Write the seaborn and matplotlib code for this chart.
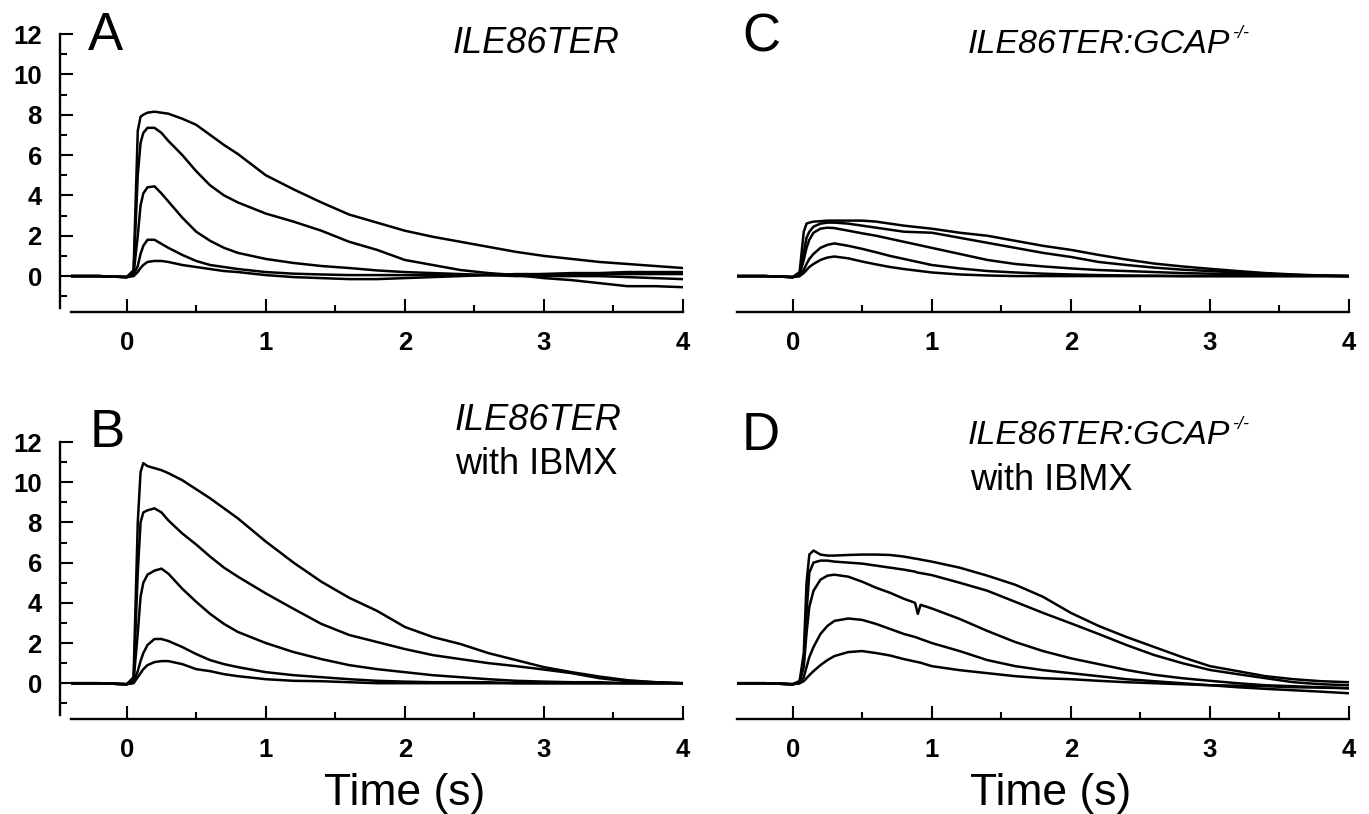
import numpy as np
import pandas as pd
import seaborn as sns
import matplotlib.pyplot as plt
from matplotlib.ticker import MultipleLocator

# === time grids (s) ===
t_grid = [-0.4, -0.2, 0.0, 0.05, 0.08, 0.1, 0.12, 0.15, 0.2, 0.25, 0.3, 0.4, 0.5, 0.6, 0.7, 0.8,
          1.0, 1.2, 1.4, 1.6, 1.8, 2.0, 2.2, 2.4, 2.6, 2.8, 3.0, 3.2, 3.4, 3.6, 3.8, 4.0]
t_grid_d = [-0.4, -0.2, 0.0, 0.05, 0.08, 0.1, 0.12, 0.15, 0.2, 0.25, 0.3, 0.4, 0.5, 0.6, 0.7, 0.8,
            0.88, 0.9, 0.92, 1.0, 1.2, 1.4, 1.6, 1.8, 2.0, 2.2, 2.4, 2.6, 2.8, 3.0, 3.2, 3.4, 3.6, 3.8, 4.0]

# === A: ILE86TER ===
a1 = [0, 0, -0.05, 0.3, 7.2, 7.9, 8.0, 8.1, 8.15, 8.1, 8.05, 7.8, 7.5, 7.0, 6.5, 6.05,
      5.0, 4.3, 3.65, 3.05, 2.65, 2.25, 1.95, 1.7, 1.45, 1.2, 1.0, 0.85, 0.7, 0.6, 0.5, 0.4]
a2 = [0, 0, -0.05, 0.2, 5.0, 6.6, 7.1, 7.35, 7.35, 7.1, 6.7, 6.0, 5.2, 4.5, 4.0, 3.65,
      3.1, 2.7, 2.25, 1.7, 1.3, 0.8, 0.55, 0.3, 0.15, 0.05, -0.1, -0.2, -0.35, -0.5, -0.5, -0.55]
a3 = [0, 0, -0.05, 0.1, 2.0, 3.5, 4.1, 4.4, 4.45, 4.1, 3.7, 2.9, 2.2, 1.75, 1.4, 1.15,
      0.85, 0.65, 0.5, 0.4, 0.28, 0.2, 0.15, 0.1, 0.05, 0.0, 0.0, 0.0, 0.0, -0.05, -0.1, -0.15]
a4 = [0, 0, -0.05, 0.05, 0.5, 1.1, 1.5, 1.8, 1.8, 1.6, 1.4, 1.05, 0.75, 0.55, 0.45, 0.35,
      0.2, 0.12, 0.08, 0.05, 0.05, 0.05, 0.05, 0.05, 0.05, 0.05, 0.1, 0.1, 0.1, 0.1, 0.1, 0.1]
a5 = [0, 0, -0.05, 0.0, 0.2, 0.4, 0.55, 0.7, 0.75, 0.75, 0.7, 0.55, 0.45, 0.35, 0.25, 0.2,
      0.05, -0.05, -0.1, -0.15, -0.15, -0.1, -0.05, 0.0, 0.05, 0.1, 0.1, 0.15, 0.15, 0.2, 0.2, 0.2]

# === B: ILE86TER with IBMX ===
b1 = [0, 0, -0.05, 0.3, 8.0, 10.5, 10.95, 10.8, 10.7, 10.6, 10.45, 10.1, 9.65, 9.2, 8.7, 8.2,
      7.05, 6.0, 5.05, 4.25, 3.6, 2.8, 2.3, 1.95, 1.5, 1.15, 0.8, 0.55, 0.33, 0.15, 0.05, 0.0]
b2 = [0, 0, -0.05, 0.2, 5.5, 8.0, 8.5, 8.6, 8.7, 8.5, 8.1, 7.45, 6.9, 6.3, 5.75, 5.3,
      4.47, 3.7, 2.95, 2.4, 2.05, 1.7, 1.4, 1.2, 1.0, 0.85, 0.68, 0.5, 0.25, 0.1, 0.05, 0.0]
b3 = [0, 0, -0.05, 0.1, 2.5, 4.3, 5.0, 5.4, 5.6, 5.7, 5.45, 4.7, 4.05, 3.45, 2.95, 2.55,
      2.0, 1.55, 1.2, 0.9, 0.7, 0.55, 0.4, 0.3, 0.2, 0.12, 0.08, 0.05, 0.05, 0.0, 0.0, 0.0]
b4 = [0, 0, -0.05, 0.05, 0.6, 1.1, 1.5, 1.9, 2.2, 2.2, 2.1, 1.8, 1.45, 1.15, 0.95, 0.8,
      0.55, 0.4, 0.3, 0.2, 0.12, 0.08, 0.05, 0.05, 0.05, 0.0, 0.0, 0.0, 0.0, 0.0, 0.0, 0.0]
b5 = [0, 0, -0.05, 0.0, 0.3, 0.5, 0.7, 0.9, 1.05, 1.1, 1.1, 0.95, 0.7, 0.6, 0.45, 0.35,
      0.2, 0.12, 0.1, 0.05, 0.0, 0.0, 0.0, 0.0, 0.0, 0.0, 0.0, 0.0, 0.0, 0.0, 0.0, 0.0]

# === C: ILE86TER:GCAP-/- ===
c1 = [0, 0, -0.05, 0.2, 2.2, 2.6, 2.65, 2.7, 2.72, 2.75, 2.75, 2.75, 2.75, 2.7, 2.6, 2.5,
      2.35, 2.15, 2.0, 1.75, 1.5, 1.3, 1.05, 0.82, 0.62, 0.48, 0.36, 0.25, 0.15, 0.08, 0.03, 0.0]
c2 = [0, 0, -0.05, 0.1, 1.2, 1.9, 2.2, 2.45, 2.6, 2.65, 2.65, 2.6, 2.5, 2.4, 2.3, 2.2,
      2.15, 1.9, 1.65, 1.4, 1.15, 0.95, 0.7, 0.55, 0.42, 0.32, 0.25, 0.18, 0.12, 0.06, 0.02, 0.0]
c3 = [0, 0, -0.05, 0.05, 0.8, 1.4, 1.8, 2.15, 2.35, 2.4, 2.38, 2.25, 2.12, 2.0, 1.85, 1.7,
      1.4, 1.1, 0.8, 0.6, 0.48, 0.38, 0.3, 0.25, 0.2, 0.15, 0.12, 0.1, 0.07, 0.05, 0.02, 0.0]
c4 = [0, 0, -0.05, 0.0, 0.3, 0.6, 0.85, 1.1, 1.4, 1.55, 1.62, 1.5, 1.35, 1.18, 1.0, 0.85,
      0.55, 0.38, 0.25, 0.18, 0.12, 0.08, 0.05, 0.03, 0.02, 0.0, 0.0, 0.0, 0.0, 0.0, 0.0, 0.0]
c5 = [0, 0, -0.05, 0.0, 0.15, 0.3, 0.45, 0.6, 0.8, 0.92, 0.97, 0.88, 0.72, 0.58, 0.45, 0.35,
      0.18, 0.08, 0.03, 0.0, 0.0, 0.0, 0.0, 0.0, 0.0, 0.0, 0.0, 0.0, 0.0, 0.0, 0.0, 0.0]

# === D: ILE86TER:GCAP-/- with IBMX ===
d1 = [0, 0, -0.05, 0.1, 1.5, 5.0, 6.4, 6.6, 6.4, 6.35, 6.35, 6.38, 6.4, 6.4, 6.38, 6.3,
      6.2, 6.18, 6.15, 6.05, 5.75, 5.35, 4.9, 4.3, 3.5, 2.85, 2.3, 1.8, 1.3, 0.85, 0.6, 0.35, 0.2, 0.1, 0.05]
d2 = [0, 0, -0.05, 0.1, 1.0, 3.5, 5.5, 6.0, 6.1, 6.1, 6.05, 6.0, 5.95, 5.85, 5.75, 5.65,
      5.55, 5.5, 5.48, 5.38, 5.0, 4.6, 4.05, 3.5, 2.98, 2.45, 1.9, 1.4, 1.0, 0.66, 0.45, 0.25, 0.05, -0.05, -0.1]
d3 = [0, 0, -0.05, 0.05, 0.8, 2.5, 3.8, 4.6, 5.15, 5.35, 5.4, 5.3, 5.05, 4.75, 4.5, 4.2,
      4.0, 3.45, 3.9, 3.72, 3.2, 2.6, 2.05, 1.6, 1.24, 0.95, 0.66, 0.42, 0.25, 0.12, 0.0, -0.1, -0.15, -0.2, -0.25]
d4 = [0, 0, -0.05, 0.0, 0.3, 0.8, 1.3, 1.8, 2.45, 2.85, 3.1, 3.22, 3.15, 2.95, 2.7, 2.45,
      2.3, 2.25, 2.2, 2.0, 1.6, 1.15, 0.85, 0.65, 0.5, 0.35, 0.2, 0.1, 0.0, -0.1, -0.2, -0.28, -0.35, -0.42, -0.5]
d5 = [0, 0, -0.05, 0.0, 0.1, 0.25, 0.4, 0.6, 0.9, 1.15, 1.35, 1.55, 1.6, 1.5, 1.38, 1.2,
      1.08, 1.05, 1.02, 0.85, 0.65, 0.5, 0.35, 0.25, 0.2, 0.12, 0.05, 0.0, -0.05, -0.1, -0.12, -0.15, -0.2, -0.22, -0.25]


def to_long(t, traces):
    frames = [pd.DataFrame({'Time': t, 'Response': tr, 'trace': i}) for i, tr in enumerate(traces)]
    return pd.concat(frames, ignore_index=True)


W, H = 1369, 814
sns.set_style('ticks')
plt.rcParams['font.family'] = ['Liberation Sans', 'DejaVu Sans']
plt.rcParams.update({'text.color': 'black', 'axes.edgecolor': 'black',
                     'xtick.color': 'black', 'ytick.color': 'black',
                     'axes.labelcolor': 'black'})
fig = plt.figure(figsize=(W / 100, H / 100), dpi=100)


def px_axes(left, right, bottom, top):
    return fig.add_axes([left / W, 1 - bottom / H, (right - left) / W, (bottom - top) / H])


def draw_panel(ax, df, show_y):
    sns.lineplot(data=df, x='Time', y='Response', units='trace', estimator=None,
                 color='black', lw=1.8, ax=ax, legend=False)
    ax.set_xlim(-0.4, 4)
    ax.set_ylim(-1.78, 12)
    ax.set_xlabel('')
    ax.set_ylabel('')
    ax.xaxis.set_major_locator(MultipleLocator(1))
    ax.xaxis.set_minor_locator(MultipleLocator(0.5))
    ax.tick_params(axis='x', which='major', direction='in', length=9.5, width=1.5,
                   pad=14, labelsize=18.5)
    ax.tick_params(axis='x', which='minor', direction='in', length=5, width=1.5)
    for lab in ax.get_xticklabels():
        lab.set_fontweight('bold')
    ax.spines['top'].set_visible(False)
    ax.spines['right'].set_visible(False)
    ax.spines['bottom'].set_linewidth(1.7)
    if show_y:
        ax.spines['left'].set_position(('outward', 8))
        ax.spines['left'].set_bounds(-1.6, 12)
        ax.spines['left'].set_linewidth(1.7)
        ax.yaxis.set_major_locator(MultipleLocator(2))
        ax.yaxis.set_minor_locator(MultipleLocator(1))
        ax.tick_params(axis='y', which='major', direction='in', length=9.5, width=1.5,
                       pad=13, labelsize=18.5)
        ax.tick_params(axis='y', which='minor', direction='in', length=5, width=1.5)
        for lab in ax.get_yticklabels():
            lab.set_fontweight('bold')
    else:
        ax.spines['left'].set_visible(False)
        ax.set_yticks([])
    ax.patch.set_alpha(0)


ax_a = px_axes(71, 683, 312, 34)
ax_b = px_axes(71, 683, 719, 442)
ax_c = px_axes(737, 1349, 312, 34)
ax_d = px_axes(737, 1349, 719, 442)

draw_panel(ax_a, to_long(t_grid, [a1, a2, a3, a4, a5]), True)
draw_panel(ax_b, to_long(t_grid, [b1, b2, b3, b4, b5]), True)
draw_panel(ax_c, to_long(t_grid, [c1, c2, c3, c4, c5]), False)
draw_panel(ax_d, to_long(t_grid_d, [d1, d2, d3, d4, d5]), False)


def ftext(x, y, s, **kw):
    return fig.text(x / W, 1 - y / H, s, va='baseline', ha='left', **kw)


# panel letters
for letter, x, y in [('A', 88, 50), ('B', 90, 447), ('C', 742, 52), ('D', 742, 450)]:
    ftext(x, y, letter, fontsize=38)

# genotype labels
ftext(453, 53, 'ILE86TER', fontsize=26, style='italic')
ftext(455, 430, 'ILE86TER', fontsize=26, style='italic')
ftext(455, 474, 'with IBMX', fontsize=26)
ftext(970, 490, 'with IBMX', fontsize=26)

renderer = fig.canvas.get_renderer()
for y in (53, 444):
    main = ftext(968, y, 'ILE86TER:GCAP', fontsize=24.5, style='italic')
    x_end = main.get_window_extent(renderer).x1
    fig.text(x_end / W + 0.001, 1 - (y - 15) / H, '-/-', fontsize=13, style='italic',
             va='baseline', ha='left')

# x labels
fig.text((127 + 2.0 * 139) / W, 1 - 805 / H, 'Time (s)', ha='center', va='baseline', fontsize=32)
fig.text((793 + 1.85 * 139) / W, 1 - 805 / H, 'Time (s)', ha='center', va='baseline', fontsize=32)

fig.savefig('out.png', dpi=100)
